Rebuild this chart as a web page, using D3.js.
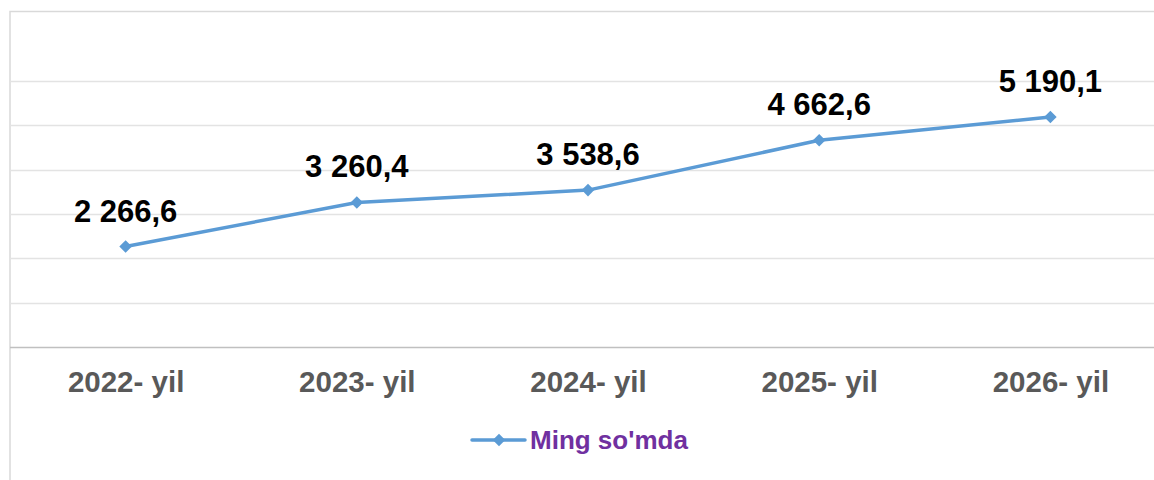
<!DOCTYPE html>
<html>
<head>
<meta charset="utf-8">
<script src="https://cdn.jsdelivr.net/npm/d3@7"></script>
<style>
  body { margin: 0; background: #fff; }
  svg { display: block; font-family: "Liberation Sans", Arial, sans-serif; }
</style>
</head>
<body>
<div id="chart"></div>
<script>
// Data
const years = ["2022- yil", "2023- yil", "2024- yil", "2025- yil", "2026- yil"];
const values = [2266.6, 3260.4, 3538.6, 4662.6, 5190.1];
const valueLabels = ["2 266,6", "3 260,4", "3 538,6", "4 662,6", "5 190,1"];
const gridTicks = [0, 1000, 2000, 3000, 4000, 5000, 6000];
const seriesName = "Ming so'mda";

const W = 1154, H = 480;
const svg = d3.select("#chart").append("svg")
    .attr("width", W)
    .attr("height", H);

// Plot area (runs off the right edge like the reference crop)
const plot = { left: 10, right: 1166, top: 81, bottom: 347 };

const x = d3.scalePoint()
    .domain(years)
    .range([plot.left, plot.right])
    .padding(0.5);

const y = d3.scaleLinear()
    .domain([0, 6000])
    .range([plot.bottom, plot.top]);

// Outer chart border
svg.append("rect")
    .attr("x", 10)
    .attr("y", 11.5)
    .attr("width", 1160)
    .attr("height", 480)
    .attr("fill", "none")
    .attr("stroke", "#d9d9d9")
    .attr("stroke-width", 1.5);

// Gridlines
svg.append("g")
    .selectAll("line")
    .data(gridTicks.filter(d => d > 0))
    .join("line")
    .attr("x1", plot.left)
    .attr("x2", W)
    .attr("y1", d => Math.round(y(d)) + 0.5)
    .attr("y2", d => Math.round(y(d)) + 0.5)
    .attr("stroke", "#e3e3e3")
    .attr("stroke-width", 1.3);

// X axis
const xAxis = d3.axisBottom(x).tickSize(0);
const gx = svg.append("g")
    .attr("transform", `translate(0,${Math.round(y(0)) + 0.5})`)
    .call(xAxis);
gx.select(".domain")
    .attr("d", `M${plot.left},0H${W}`)
    .attr("stroke", "#c0c0c0")
    .attr("stroke-width", 1.5);
gx.selectAll("text")
    .attr("dy", 0)
    .attr("y", 44)
    .attr("fill", "#595959")
    .style("font-size", "29.5px")
    .style("font-weight", "bold")
    .style("font-family", "'Liberation Sans', Arial, sans-serif");

// Line
const data = years.map((k, i) => ({ key: k, value: values[i], label: valueLabels[i] }));

const line = d3.line()
    .x(d => x(d.key))
    .y(d => y(d.value));

svg.append("path")
    .datum(data)
    .attr("d", line)
    .attr("fill", "none")
    .attr("stroke", "#5b9bd5")
    .attr("stroke-width", 3.5)
    .attr("stroke-linejoin", "round");

// Diamond markers
const diamond = d3.symbol().type(d3.symbolDiamond2).size(100);
svg.selectAll(".marker")
    .data(data)
    .join("path")
    .attr("class", "marker")
    .attr("d", diamond)
    .attr("transform", d => `translate(${x(d.key)},${y(d.value)})`)
    .attr("fill", "#5b9bd5");

// Value labels
svg.selectAll(".vlabel")
    .data(data)
    .join("text")
    .attr("class", "vlabel")
    .attr("x", d => x(d.key))
    .attr("y", d => y(d.value) - 25)
    .attr("text-anchor", "middle")
    .style("font-size", "31px")
    .style("font-weight", "bold")
    .attr("fill", "#000")
    .text(d => d.label);

// Legend
const legend = svg.append("g").attr("transform", "translate(472,440)");
legend.append("line")
    .attr("x1", 0).attr("x2", 53)
    .attr("y1", 0).attr("y2", 0)
    .attr("stroke", "#5b9bd5")
    .attr("stroke-width", 3.5)
    .attr("stroke-linecap", "round");
legend.append("path")
    .attr("d", diamond)
    .attr("transform", "translate(27,0)")
    .attr("fill", "#5b9bd5");
legend.append("text")
    .attr("x", 58)
    .attr("y", 9)
    .attr("fill", "#7030a0")
    .style("font-size", "26px")
    .style("font-weight", "bold")
    .text(seriesName);
</script>
</body>
</html>
